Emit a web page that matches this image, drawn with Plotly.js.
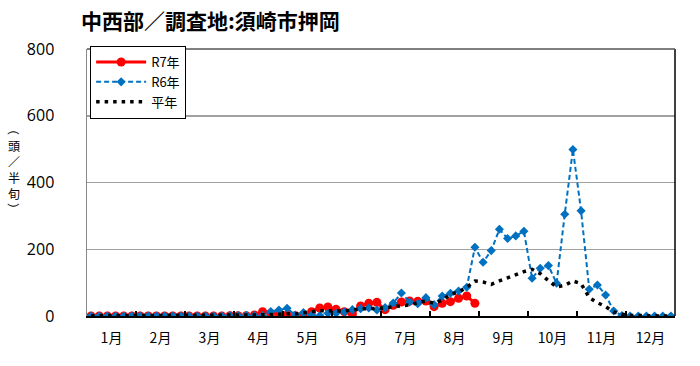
<!DOCTYPE html>
<html>
<head>
<meta charset="utf-8">
<script src="https://cdn.plot.ly/plotly-3.0.1.min.js"></script>
<style>html,body{margin:0;padding:0;background:#fff;}#chart{width:700px;height:366px;}</style>
</head>
<body>
<div id="chart"></div>
<script>
// Month labels
const months = ['1月','2月','3月','4月','5月','6月','7月','8月','9月','10月','11月','12月'];
const periodsPerMonth = 6;

// R7年 (values per 半旬, observed so far)
const r7 = [
  0,0,0,0,0,0, 0,0,0,0,0,0, 0,0,0,0,0,1,
  1,1,3,13,8,5, 3,1,3,13,24,27,
  20,13,6,30,38,41, 19,32,42,45,44,45,
  28,38,43,53,60,38
];

// R6年
const r6 = [
  0,0,0,0,0,0, 0,0,0,0,0,0, 0,0,0,0,0,1,
  1,2,1,1,13,18, 23,3,10,3,1,8,
  8,12,19,22,24,18, 25,39,69,42,37,55,
  34,60,68,75,86,206, 161,196,260,232,240,254,
  113,143,151,98,305,499, 315,80,93,63,15,1,
  0,0,0,0,0,0
];

// 平年
const normal = [
  1,1,1,1,1,1, 1,1,1,1,1,1, 1,1,1,2,2,2,
  2,3,3,4,4,5, 7,6,10,14,16,15,
  15,15,18,22,22,22, 24,28,30,33,40,45,
  38,47,65,72,86,105, 102,95,105,115,125,133,
  140,127,106,87,92,105, 97,55,40,28,12,5,
  2,1,1,0,0,0
];

const seriesNames = ['R7年','R6年','平年'];
const yTicks = [0,200,400,600,800];
const yTitleChars = ['（','頭','／','半','旬','）'];

const idx = arr => arr.map((_, i) => i);
const nPeriods = months.length * periodsPerMonth;
const monthCenters = months.map((_, m) => m * periodsPerMonth + (periodsPerMonth - 1) / 2);
const monthBounds = [];
for (let m = 0; m <= months.length; m++) monthBounds.push(m * periodsPerMonth - 0.5);

const cjk = '"Noto Sans CJK JP", "Noto Sans", sans-serif';

const traces = [
  {
    x: idx(r7), y: r7, name: seriesNames[0], type: 'scatter', mode: 'lines+markers',
    line: {color: '#FF0000', width: 3},
    marker: {symbol: 'circle', size: 9, color: '#FF0000'}
  },
  {
    x: idx(r6), y: r6, name: seriesNames[1], type: 'scatter', mode: 'lines+markers',
    line: {color: '#0070C0', width: 2, dash: '5px,3px'},
    marker: {symbol: 'diamond', size: 7, color: '#0070C0'}
  },
  {
    x: idx(normal), y: normal, name: seriesNames[2], type: 'scatter', mode: 'lines',
    line: {color: '#000000', width: 3.5, dash: '3.5px,5px'}
  },
  // invisible trace carrying the month-boundary tick marks on xaxis2
  {
    x: idx(normal), y: normal, xaxis: 'x2', type: 'scatter', mode: 'lines',
    line: {width: 0}, opacity: 0, showlegend: false, hoverinfo: 'skip'
  }
];

// y-axis title, written vertically one character per line
const yTitleTop = 129, yTitleStep = 16;
const yTitleAnnots = yTitleChars.map((ch, k) => ({
  text: ch,
  textangle: (ch === '（' || ch === '）') ? 90 : 0,
  xref: 'paper', yref: 'paper',
  x: -73/588, y: (316 - (yTitleTop + k * yTitleStep)) / 267,
  showarrow: false, xanchor: 'center', yanchor: 'middle',
  font: {family: cjk, size: 12, color: '#000'}
}));

const layout = {
  width: 700, height: 366,
  margin: {l: 87, r: 25, t: 49, b: 50},
  paper_bgcolor: '#ffffff', plot_bgcolor: '#ffffff',
  showlegend: true,
  title: {
    text: '<b>中西部／調査地:須崎市押岡</b>',
    x: 81/700, xanchor: 'left', xref: 'container',
    y: 1 - 22/366, yanchor: 'middle', yref: 'container',
    font: {family: cjk, size: 21, color: '#000'}
  },
  xaxis: {
    range: [-0.5, nPeriods - 0.5],
    tickmode: 'array', tickvals: monthCenters, ticktext: months,
    ticks: '', showgrid: false, zeroline: false,
    showline: true, linecolor: '#000', linewidth: 2,
    tickfont: {family: cjk, size: 14, color: '#000'},
    ticklabelstandoff: 8,
    fixedrange: true
  },
  xaxis2: {
    overlaying: 'x', matches: 'x', range: [-0.5, nPeriods - 0.5],
    tickmode: 'array', tickvals: monthBounds,
    ticks: 'inside', ticklen: 5, tickwidth: 1.5, tickcolor: '#000',
    showticklabels: false, showgrid: false, zeroline: false, showline: false
  },
  yaxis: {
    range: [0, 800], tickmode: 'array', tickvals: yTicks,
    showgrid: true, gridcolor: '#a0a0a0', gridwidth: 1.5,
    zeroline: false, showline: true, linecolor: '#888', linewidth: 1.5,
    ticks: '', ticklabelstandoff: 28,
    tickfont: {family: '"Open Sans", "Noto Sans", sans-serif', size: 16, color: '#000'},
    fixedrange: true
  },
  legend: {
    x: 0.005, y: 1.012, xanchor: 'left', yanchor: 'top',
    bgcolor: '#ffffff', bordercolor: '#000', borderwidth: 1.2,
    font: {family: cjk, size: 13, color: '#000'},
    tracegroupgap: 0, itemwidth: 50
  },
  shapes: [
    {type: 'line', xref: 'paper', yref: 'paper', x0: 1, x1: 1, y0: 0, y1: 1, line: {color: '#000', width: 1.5}},
    {type: 'line', xref: 'paper', yref: 'paper', x0: 0, x1: 1, y0: 1, y1: 1, line: {color: '#555', width: 1.5}}
  ],
  annotations: yTitleAnnots
};

Plotly.newPlot('chart', traces, layout, {staticPlot: true, displayModeBar: false});
</script>
</body>
</html>
